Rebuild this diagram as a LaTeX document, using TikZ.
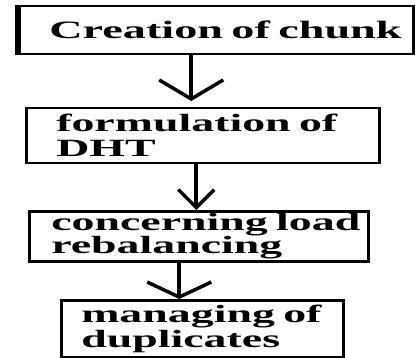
\documentclass[tikz,border=0pt]{standalone}
\usepackage{fontspec}
\newfontfamily\flowfont[FakeStretch=1.85]{Liberation Serif}
\usetikzlibrary{arrows.meta}

\begin{document}
\begin{tikzpicture}[x=1pt,y=-1pt,
		stepbox/.style={draw,line width=2.5pt,anchor=north west,align=left,inner ysep=0pt,
			font=\flowfont\bfseries\fontsize{24.8}{25}\selectfont},
		flow/.style={line width=4pt}]
	\useasboundingbox (0,0) rectangle (417,358);
	% the four steps
	\node[stepbox,inner xsep=30pt,text width=334pt,minimum height=48pt,
		font=\flowfont\bfseries\fontsize{25}{26}\selectfont] (chunk) at (18,5) {Creation~of~chunk};
	\node[stepbox,inner xsep=30pt,text width=293pt,minimum height=55pt] (dht) at (25,107) {formulation~of\\DHT};
	\node[stepbox,inner xsep=22pt,text width=295pt,minimum height=50pt,
		font=\flowfont\bfseries\fontsize{24.8}{22.5}\selectfont] (load) at (28,210) {concerning~load\\rebalancing};
	\node[stepbox,inner xsep=20pt,text width=242pt,minimum height=57pt] (dup) at (60,299) {managing~of\\duplicates};
	\draw[line width=6pt] (chunk.north west) -- (chunk.south west);
	% arrows between them
	\draw[flow,-{Straight Barb[length=19pt,width=64pt,line width=3.5pt]},shorten >=6pt]
		([xshift=-25pt]chunk.south) -- ([xshift=-11.5pt]dht.north);
	\draw[flow,-{Straight Barb[length=18pt,width=36pt,line width=3.5pt]}]
		([xshift=-6.5pt]dht.south) -- ([xshift=-2.5pt]load.north);
	\draw[flow,-{Straight Barb[length=15pt,width=64pt,line width=3.5pt]}]
		([xshift=-19.5pt]load.south) -- ([xshift=-23pt]dup.north);
\end{tikzpicture}
\end{document}
